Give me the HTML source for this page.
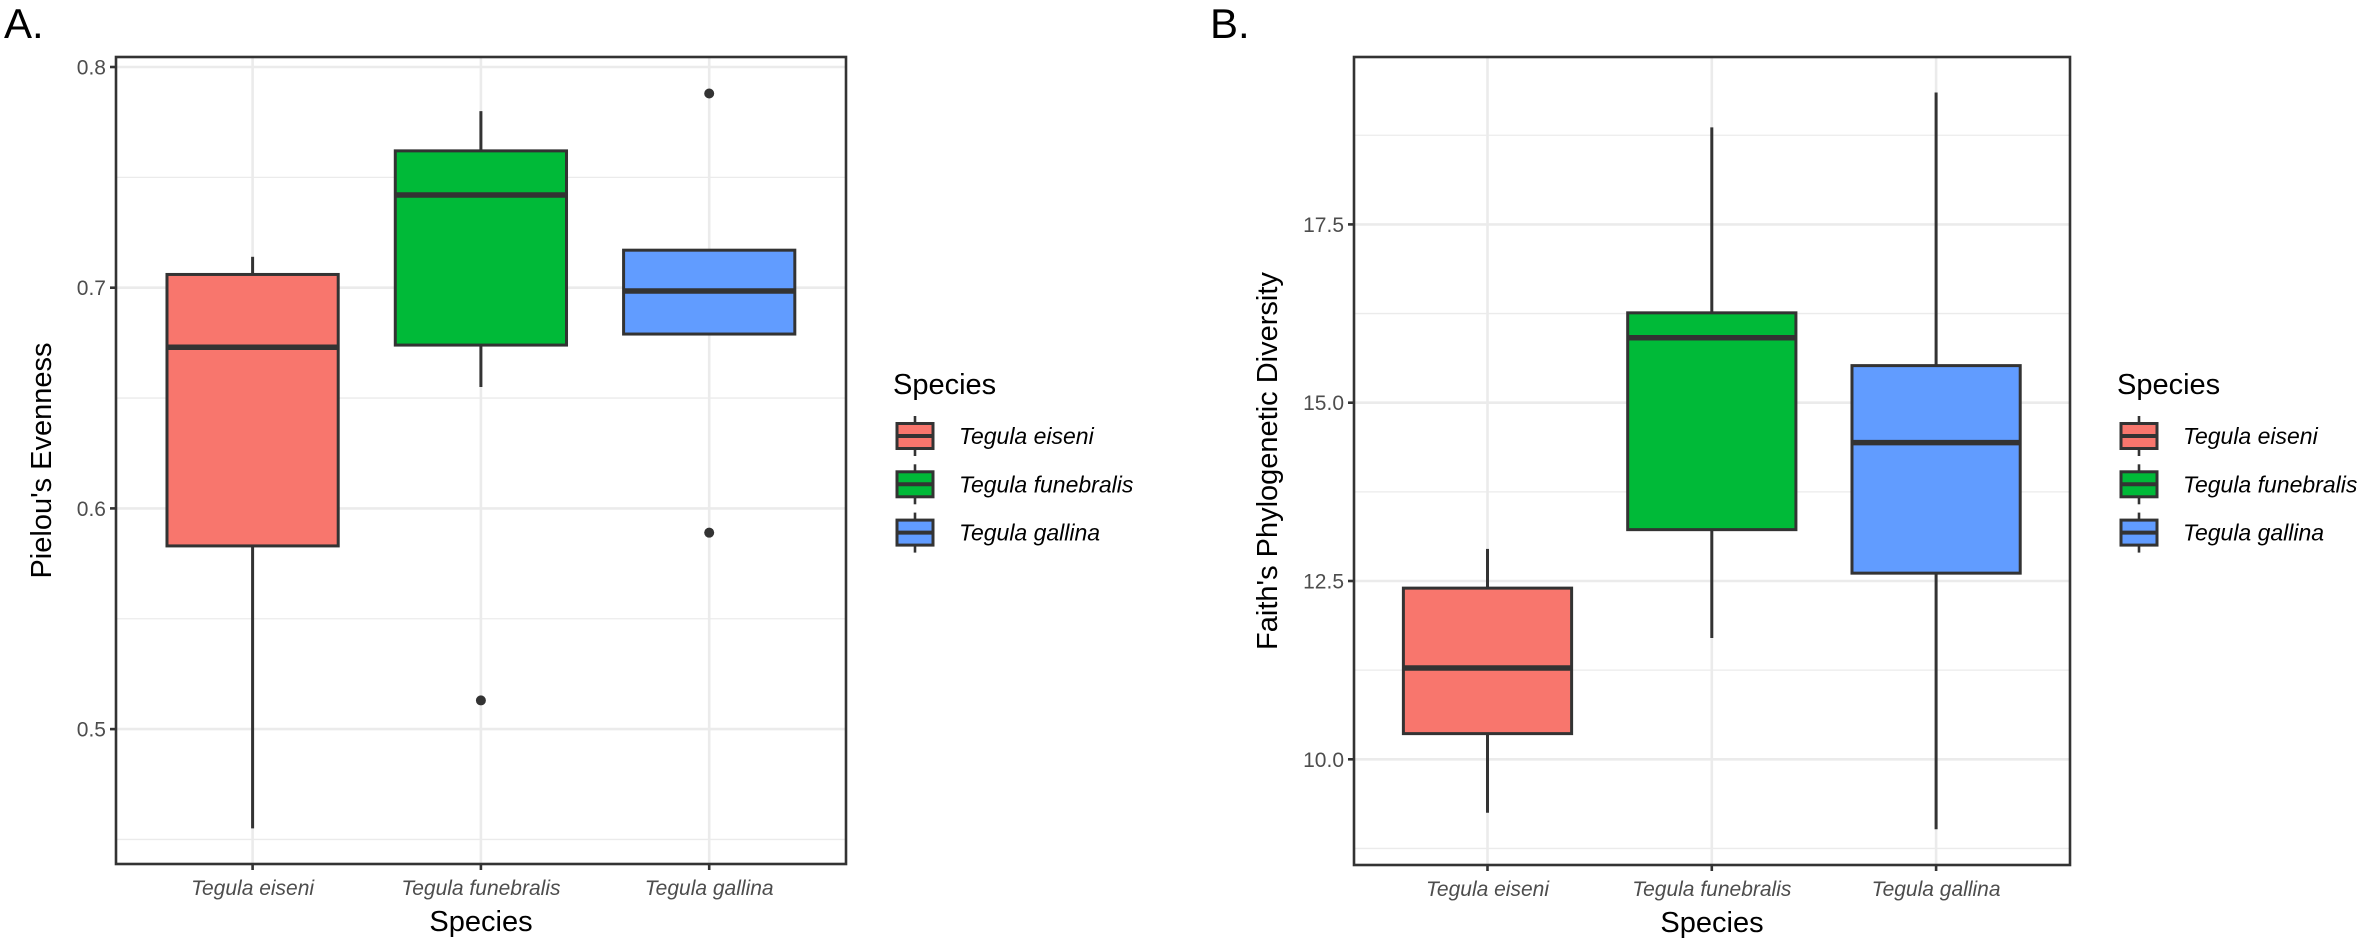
<!DOCTYPE html>
<html><head><meta charset="utf-8"><style>
html,body{margin:0;padding:0;background:#fff;}
svg{display:block;font-family:"Liberation Sans",Arial,sans-serif;}
</style></head><body>
<svg id="fig" width="2377" height="951" viewBox="0 0 2377 951">
<text x="4" y="38" font-size="42" fill="#000">A.</text>
<text x="1210" y="38" font-size="42" fill="#000">B.</text>
</svg>
<script>
const categories = ["Tegula eiseni","Tegula funebralis","Tegula gallina"];
const colors = ["#F8766D","#00BA38","#619CFF"];
// Panel A: Pielou's Evenness
const aLow = [0.455, 0.655, 0.679];
const aQ1 = [0.583, 0.674, 0.679];
const aMed = [0.673, 0.742, 0.6985];
const aQ3 = [0.706, 0.762, 0.717];
const aHigh = [0.714, 0.780, 0.717];
const aOutX = [1, 2, 2];
const aOutY = [0.513, 0.788, 0.589];
const aTicks = [0.5, 0.6, 0.7, 0.8];
const aTickLabels = ["0.5","0.6","0.7","0.8"];
const aMinor = [0.45, 0.55, 0.65, 0.75];
// Panel B: Faith's PD
const bLow = [9.25, 11.70, 9.02];
const bQ1 = [10.36, 13.22, 12.61];
const bMed = [11.28, 15.91, 14.44];
const bQ3 = [12.40, 16.26, 15.52];
const bHigh = [12.95, 18.86, 19.35];
const bOutX = [];
const bOutY = [];
const bTicks = [10, 12.5, 15, 17.5];
const bTickLabels = ["10.0","12.5","15.0","17.5"];
const bMinor = [8.75, 11.25, 13.75, 16.25, 18.75];

const NS = "http://www.w3.org/2000/svg";
const svg = document.getElementById('fig');
function mk(tag, attrs, parent){
  const e = document.createElementNS(NS, tag);
  for (const k in attrs) e.setAttribute(k, attrs[k]);
  (parent||svg).appendChild(e);
  return e;
}
function panel(cfg){
  const g = mk('g', {});
  
  
  const L=cfg.left,R=cfg.right,T=cfg.top,B=cfg.bottom;
  const y = v => cfg.y0 + (v - cfg.v0) * cfg.k;
  const x = i => cfg.x0 + i * cfg.dx;
  // minor grid
  cfg.minor.forEach(v=>{ if(y(v)>T && y(v)<B){ const l=mk('line',{x1:L,x2:R,y1:y(v),y2:y(v),stroke:'#ebebeb','stroke-width':1.3},g);
      }});
  cfg.ticks.forEach(v=>{ const l=mk('line',{x1:L,x2:R,y1:y(v),y2:y(v),stroke:'#ebebeb','stroke-width':2.6},g);
      });
  categories.forEach((c,i)=>{ const l=mk('line',{x1:x(i),x2:x(i),y1:T,y2:B,stroke:'#ebebeb','stroke-width':2.6},g);
      });
  // boxes
  const hw = cfg.dx*0.375;
  categories.forEach((c,i)=>{
    const bg = mk('g',{},g);
    
    
    mk('line',{x1:x(i),x2:x(i),y1:y(cfg.high[i]),y2:y(cfg.q3[i]),stroke:'#333','stroke-width':3},bg);
    mk('line',{x1:x(i),x2:x(i),y1:y(cfg.q1[i]),y2:y(cfg.low[i]),stroke:'#333','stroke-width':3},bg);
    mk('rect',{x:x(i)-hw,y:y(cfg.q3[i]),width:2*hw,height:Math.max(0.1,y(cfg.q1[i])-y(cfg.q3[i])),fill:colors[i],stroke:'#333','stroke-width':3},bg);
    mk('line',{x1:x(i)-hw,x2:x(i)+hw,y1:y(cfg.med[i]),y2:y(cfg.med[i]),stroke:'#333','stroke-width':5.5},bg);
  });
  cfg.outX.forEach((xi,j)=>{
    const d=mk('circle',{cx:x(xi),cy:y(cfg.outY[j]),r:5,fill:'#333'},g);
     
  });
  const bd=mk('rect',{x:L,y:T,width:R-L,height:B-T,fill:'none',stroke:'#333','stroke-width':2.6},g);
   
  // y ticks
  cfg.ticks.forEach((v,j)=>{
    mk('line',{x1:L-6,x2:L,y1:y(v),y2:y(v),stroke:'#333','stroke-width':2.6},g);
    const t=mk('text',{x:L-10,y:y(v)+7.5,'text-anchor':'end','font-size':21,fill:'#4d4d4d'},g);
    t.textContent=cfg.tickLabels[j];
     
  });
  categories.forEach((c,i)=>{
    mk('line',{x1:x(i),x2:x(i),y1:B,y2:B+6,stroke:'#333','stroke-width':2.6},g);
    const t=mk('text',{x:x(i),y:B+31,'text-anchor':'middle','font-size':21,'font-style':'italic',fill:'#4d4d4d'},g);
    t.textContent=c;
     
  });
  const xt=mk('text',{x:(L+R)/2,y:B+67,'text-anchor':'middle','font-size':29,fill:'#000'},g);
  xt.textContent='Species';
   
  const yc=(T+B)/2;
  const yt=mk('text',{x:cfg.ylx,y:yc,'text-anchor':'middle','font-size':29,fill:'#000',transform:`rotate(-90 ${cfg.ylx} ${yc})`},g);
  yt.textContent=cfg.ylabel;
   
  // legend
  const lg=mk('g',{},g);
   
  const lt=mk('text',{x:cfg.legX,y:394,'font-size':29,fill:'#000'},lg);
  lt.textContent='Species';
   
  categories.forEach((c,i)=>{
    const cy=436+i*48.3;
    const e=mk('g',{},lg);
     
    const kx=cfg.legX+22;
    mk('line',{x1:kx,x2:kx,y1:cy-20,y2:cy+20,stroke:'#333','stroke-width':2.6},e);
    mk('rect',{x:kx-18,y:cy-12.5,width:36,height:25,fill:colors[i],stroke:'#333','stroke-width':3},e);
    mk('line',{x1:kx-18,x2:kx+18,y1:cy,y2:cy,stroke:'#333','stroke-width':4},e);
    const tx=mk('text',{x:cfg.legX+66,y:cy+8,'font-size':23,'font-style':'italic',fill:'#000'},e);
    tx.textContent=c;
  });
}
panel({name:'panel-a',left:116,right:846,top:57,bottom:864,y0:287.7,v0:0.7,k:-2207,x0:252.6,dx:228.3,
  ticks:aTicks,tickLabels:aTickLabels,minor:aMinor,low:aLow,q1:aQ1,med:aMed,q3:aQ3,high:aHigh,outX:aOutX,outY:aOutY,
  ylabel:"Pielou's Evenness",ylx:51,legX:893});
panel({name:'panel-b',left:1354,right:2070,top:57,bottom:865,y0:759.3,v0:10,k:-71.32,x0:1487.5,dx:224.3,
  ticks:bTicks,tickLabels:bTickLabels,minor:bMinor,low:bLow,q1:bQ1,med:bMed,q3:bQ3,high:bHigh,outX:bOutX,outY:bOutY,
  ylabel:"Faith's Phylogenetic Diversity",ylx:1277,legX:2117});
</script>
</body></html>
